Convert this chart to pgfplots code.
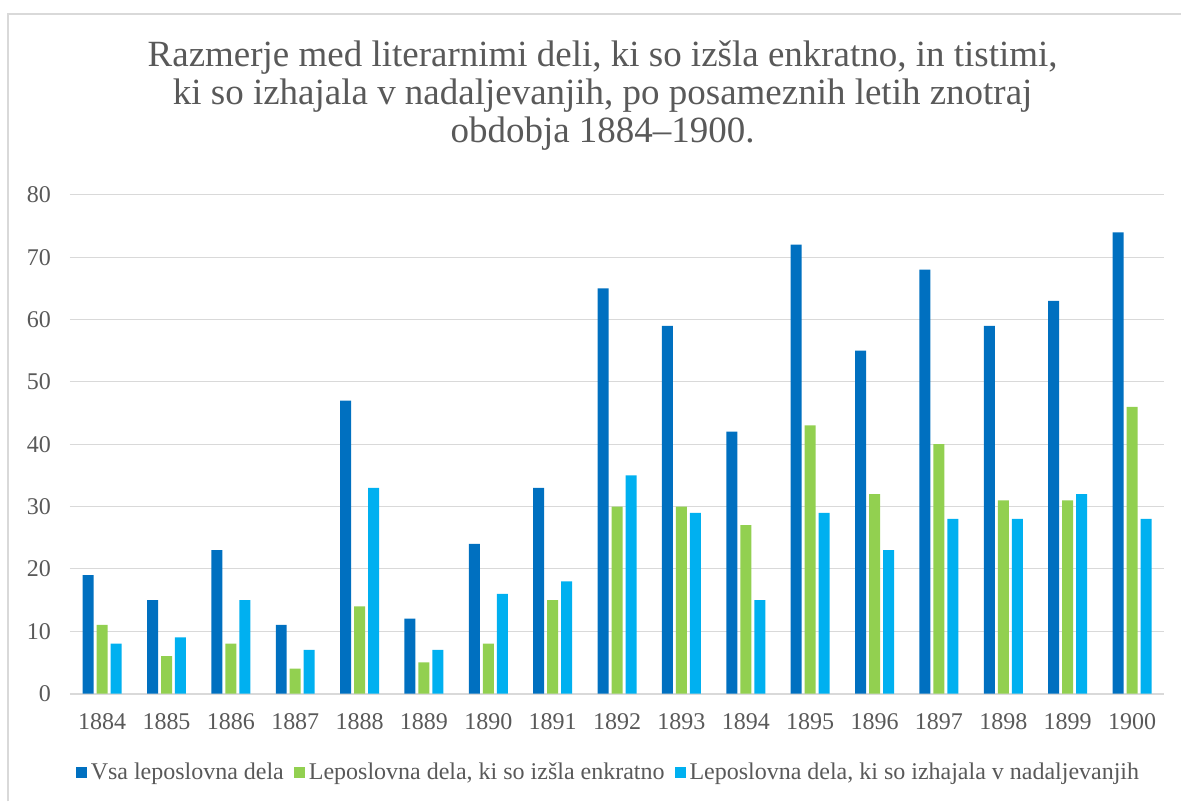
\documentclass[border=0pt]{standalone}
\usepackage{fontspec}
\setmainfont{Liberation Serif}
\usepackage{pgfplots}
\pgfplotsset{compat=1.18}
\definecolor{DarkBlue}{HTML}{0070C0}
\definecolor{LightGreen}{HTML}{92D050}
\definecolor{SkyBlue}{HTML}{00B0F0}
\definecolor{TextGray}{HTML}{595959}
\definecolor{GridGray}{HTML}{D9D9D9}

\pgfplotstableread{
x year vsa enkratno nadalj
0  1884 19 11 8
1  1885 15 6  9
2  1886 23 8  15
3  1887 11 4  7
4  1888 47 14 33
5  1889 12 5  7
6  1890 24 8  16
7  1891 33 15 18
8  1892 65 30 35
9  1893 59 30 29
10 1894 42 27 15
11 1895 72 43 29
12 1896 55 32 23
13 1897 68 40 28
14 1898 59 31 28
15 1899 63 31 32
16 1900 74 46 28
}\data

\begin{document}
\begin{tikzpicture}
% page size and chart frame
\path (0,0) rectangle (591pt,401pt);
\draw[GridGray, line width=0.8pt] (4pt,0) -- (4pt,394pt) -- (591pt,394pt);

\node[align=center, text=TextGray, font=\fontsize{18.5}{19}\selectfont]
  at (301.5pt,353pt)
  {Razmerje med literarnimi deli, ki so izšla enkratno, in tistimi,\\
   ki so izhajala v nadaljevanjih, po posameznih letih znotraj\\
   obdobja 1884–1900.};

\begin{axis}[
    at={(35pt,54pt)}, anchor=south west,
    scale only axis,
    width=547.5pt, height=249.5pt,
    ybar=1.5pt,
    bar width=5.5pt,
    xmin=-0.5, xmax=16.5,
    ymin=0, ymax=80,
    xtick=data,
    xticklabels={1884,1885,1886,1887,1888,1889,1890,1891,1892,1893,1894,1895,1896,1897,1898,1899,1900},
    ytick={0,10,...,80},
    major tick length=0pt,
    axis lines*=left,
    y axis line style={draw=none},
    x axis line style={GridGray, line width=1pt, -},
    ymajorgrids,
    grid style={GridGray, line width=0.6pt},
    ticklabel style={font=\fontsize{12}{14}\selectfont, text=TextGray},
    /pgf/number format/assume math mode=true,
    xticklabel style={yshift=-6.5pt},
    yticklabel style={xshift=-6pt},
    legend style={at={(0.493,-0.158)}, anchor=center, draw=none,
        font=\fontsize{12}{14}\selectfont, text=TextGray,
        /tikz/every even column/.append style={column sep=3pt}},
    legend columns=3,
    legend image code/.code={\fill[#1] (0pt,-2.75pt) rectangle (5.5pt,2.75pt);},
]
\addplot[fill=DarkBlue, draw=none] table[x=x, y=vsa] {\data};
\addplot[fill=LightGreen, draw=none] table[x=x, y=enkratno] {\data};
\addplot[fill=SkyBlue, draw=none] table[x=x, y=nadalj] {\data};
\legend{Vsa leposlovna dela, {Leposlovna dela, ki so izšla enkratno}, {Leposlovna dela, ki so izhajala v nadaljevanjih}}
\end{axis}
\end{tikzpicture}
\end{document}
